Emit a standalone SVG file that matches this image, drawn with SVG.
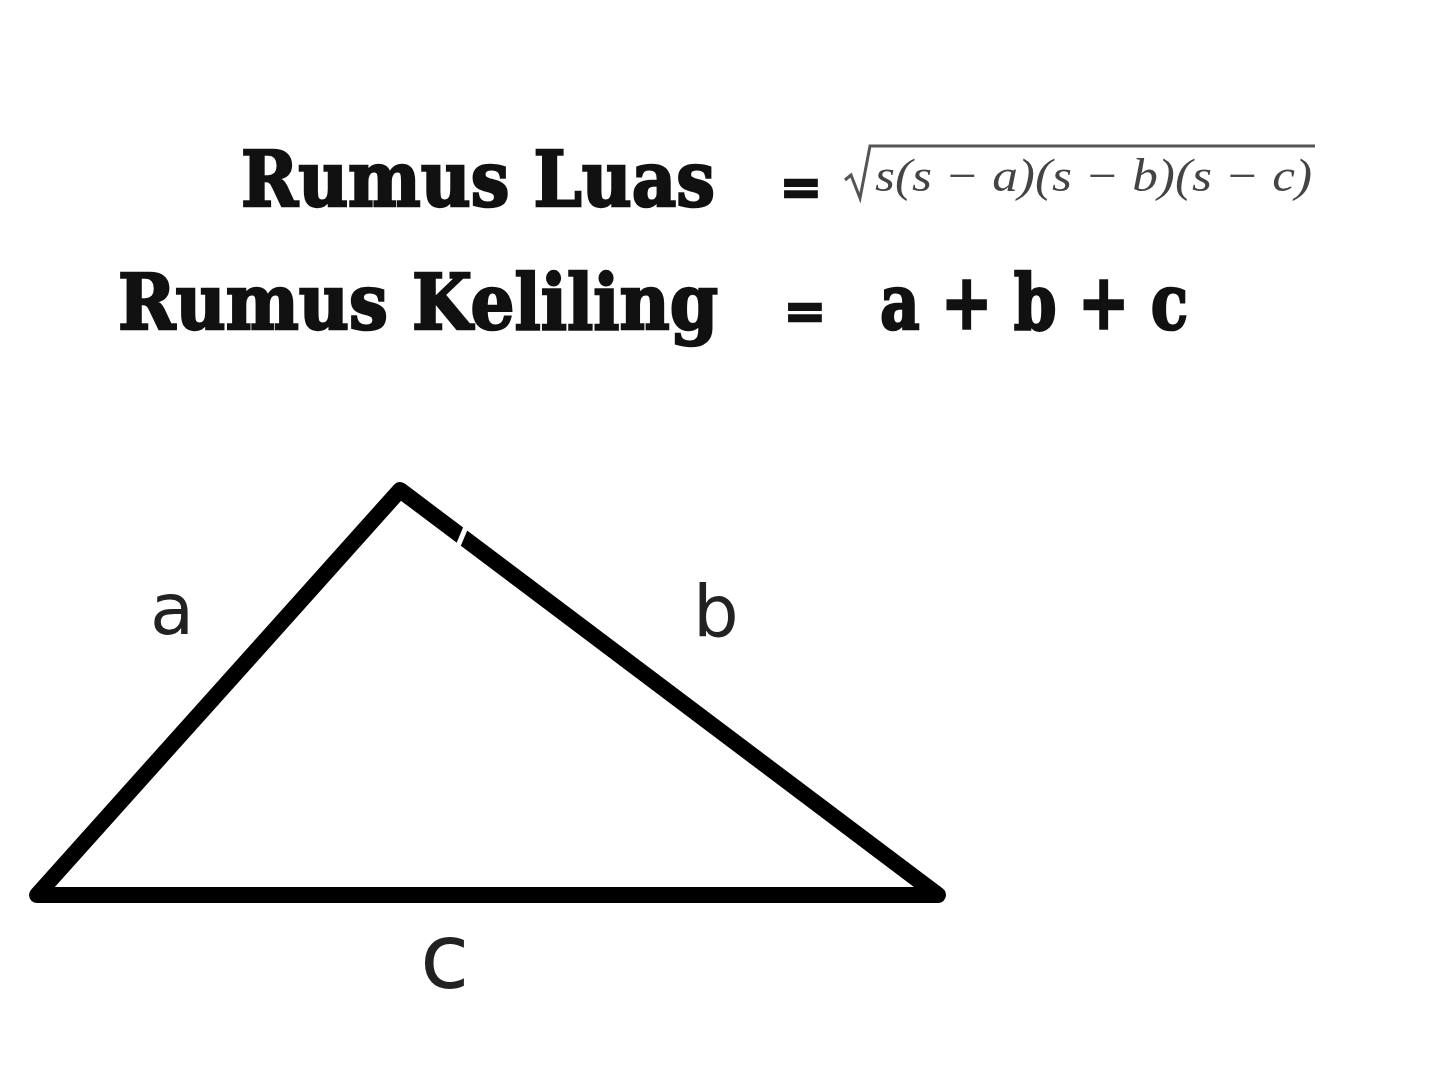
<svg xmlns="http://www.w3.org/2000/svg" width="1442" height="1080" viewBox="0 0 1442 1080">
<style>
.h{font-family:"DejaVu Serif","Liberation Serif",serif;font-weight:bold;fill:#111;stroke:#111;stroke-width:2.5}
.f{font-family:"Liberation Serif","DejaVu Serif",serif;font-style:italic;fill:#444}
.l{font-family:"DejaVu Sans","Liberation Sans",sans-serif;fill:#222}
.edge{fill:none;stroke:#000;stroke-width:16;stroke-linejoin:round;stroke-linecap:round}
</style>
<rect width="1442" height="1080" fill="#fff"/>
<g id="formulas">
<text class="h" x="241" y="206" font-size="76" textLength="474" lengthAdjust="spacingAndGlyphs">Rumus Luas</text>
<text class="h" x="780" y="204" font-size="50">=</text>
<g id="sqrt">
<path d="M845 180 L851 175 L860 198 L870 146 L1315 146" fill="none" stroke="#555" stroke-width="3"/>
<text class="f" x="875" y="191" font-size="46" textLength="437" lengthAdjust="spacingAndGlyphs">s(s − a)(s − b)(s − c)</text>
</g>
<text class="h" x="118" y="329" font-size="76" textLength="600" lengthAdjust="spacingAndGlyphs">Rumus Keliling</text>
<text class="h" x="784" y="328" font-size="50">=</text>
<text class="h" x="880" y="329" font-size="76" textLength="308" lengthAdjust="spacingAndGlyphs">a + b + c</text>
</g>
<g id="triangle">
<path class="edge" d="M400 490 L938 895 L37 895 Z"/>
<line x1="466" y1="527" x2="458" y2="546" stroke="#fff" stroke-width="5"/>
</g>
<g id="labels">
<text class="l" x="150" y="634" font-size="72">a</text>
<text class="l" x="693" y="636" font-size="72">b</text>
<text class="l" x="420" y="988" font-size="90">c</text>
</g>
</svg>
